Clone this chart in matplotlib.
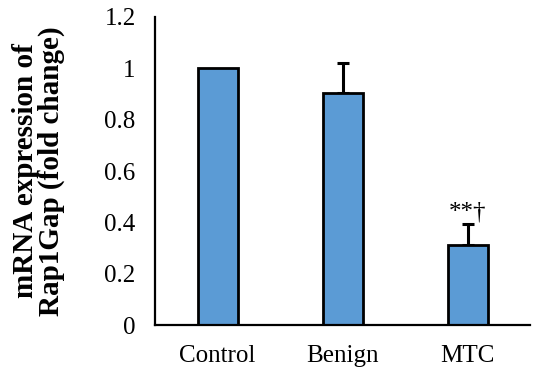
import matplotlib
matplotlib.use("Agg")
import matplotlib.pyplot as plt
import numpy as np

categories = ["Control", "Benign", "MTC"]
values = [1.0, 0.905, 0.31]
errors = [0.0, 0.117, 0.083]
yticks = [0, 0.2, 0.4, 0.6, 0.8, 1.0, 1.2]
ytick_labels = ["0", "0.2", "0.4", "0.6", "0.8", "1", "1.2"]
annotation = "**\u2020"

plt.rcParams['font.family'] = ['Liberation Serif', 'DejaVu Serif']

fig = plt.figure(figsize=(5.46, 3.69), dpi=100)
ax = fig.add_axes([0.284, 0.119, 0.687, 0.835])

x = np.arange(len(categories))
ax.bar(x, values, width=0.32, color="#5B9BD5", edgecolor="black", linewidth=2, zorder=2)
mask = np.array(errors) > 0
ax.errorbar(x[mask], np.array(values)[mask], yerr=[np.zeros(mask.sum()), np.array(errors)[mask]],
            fmt="none", ecolor="black", elinewidth=2.2, capsize=4.5, capthick=2.2, zorder=1)
ax.text(x[2], values[2] + errors[2] + 0.002, annotation, ha="center", va="bottom", fontsize=18)

ax.set_xlim(-0.5, 2.5)
ax.set_ylim(0, 1.2)
ax.set_yticks(yticks)
ax.set_yticklabels(ytick_labels, fontsize=18)
ax.set_xticks(x)
ax.set_xticklabels(categories, fontsize=18)
ax.tick_params(axis="y", length=0, pad=14)
ax.tick_params(axis="x", length=0, pad=14)
for s in ["top", "right"]:
    ax.spines[s].set_visible(False)
ax.spines["left"].set_linewidth(1.6)
ax.spines["bottom"].set_linewidth(1.6)
ax.set_ylabel("mRNA expression of\nRap1Gap (fold change)", fontsize=21, fontweight="bold",
              labelpad=28, linespacing=0.95)

fig.savefig("out.png", dpi=100)
